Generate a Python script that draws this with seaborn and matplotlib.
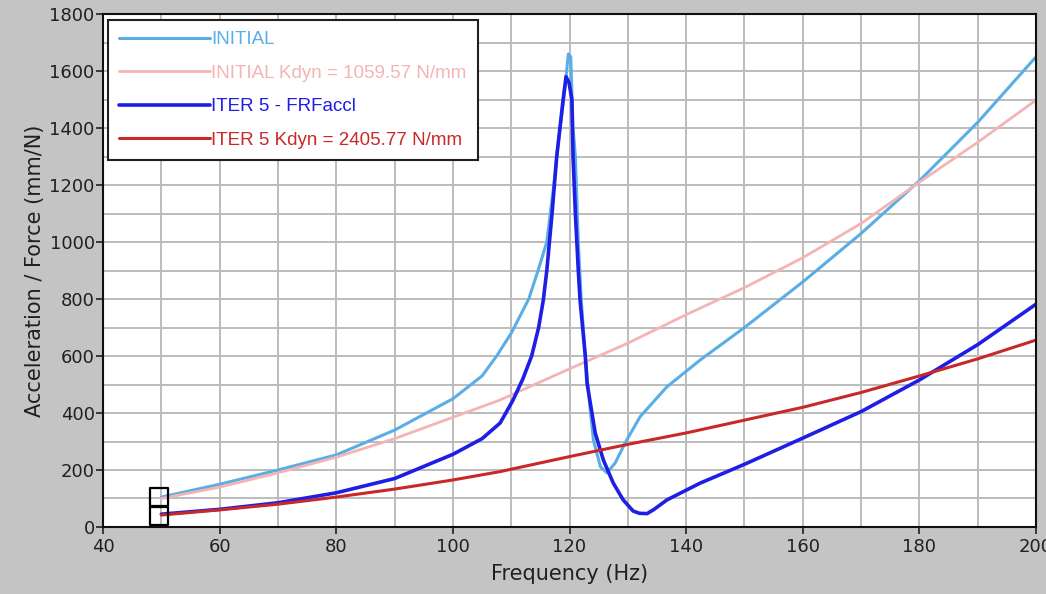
import numpy as np
import pandas as pd
import matplotlib
matplotlib.use('Agg')
import matplotlib.pyplot as plt
import seaborn as sns

# --- data ---
freq_initial = [50, 60, 70, 80, 90, 100, 105, 107.5, 110, 113, 114.6, 116.1, 116.7, 117.3, 117.8, 118.5,
                119, 119.5, 119.8, 120.2, 120.6, 121, 121.5, 122, 122.7, 123.5, 124.1, 125.3, 126.4,
                127.8, 129.8, 132.1, 136.7, 142.4, 150, 160, 170, 180, 190, 200]
acc_initial = [105, 150, 200, 253, 340, 450, 530, 600, 680, 800, 900, 1000, 1100, 1200, 1300, 1420,
               1500, 1600, 1660, 1650, 1400, 1300, 1000, 800, 600, 420, 305, 211, 190,
               224, 305, 387, 492, 586, 700, 860, 1030, 1215, 1420, 1650]

freq_kdyn_init = [50, 60, 70, 80, 90, 100, 108, 120, 130, 140, 150, 160, 170, 180, 190, 200]
acc_kdyn_init = [100, 140, 190, 245, 310, 385, 445, 555, 645, 745, 840, 945, 1065, 1210, 1350, 1498]

freq_iter5 = [50, 60, 70, 80, 90, 100, 105, 108.1, 110.3, 112, 113.5, 114.7, 115.5, 116.1, 117, 117.8,
              118.9, 119.4, 119.9, 120.4, 120.6, 121, 121.5, 121.8, 122.7, 123, 124.4, 125.8, 127.5,
              129.2, 130.9, 132, 133.3, 134.5, 136.7, 142.4, 150, 160, 170, 180, 190, 200]
acc_iter5 = [45, 62, 85, 120, 170, 255, 310, 365, 445, 520, 600, 700, 796, 900, 1100, 1300,
             1500, 1580, 1560, 1500, 1300, 1100, 900, 796, 600, 505, 330, 235, 154,
             95, 56, 48, 47, 62, 95, 154, 220, 312, 405, 516, 640, 782]

freq_kdyn_iter5 = [50, 60, 70, 80, 90, 100, 108, 120, 130, 140, 150, 160, 170, 180, 190, 200]
acc_kdyn_iter5 = [42, 60, 80, 105, 133, 165, 194, 247, 290, 330, 375, 420, 472, 530, 590, 656]

marker_freq = [49.6, 49.6]
marker_acc = [105, 38]

labels = ['INITIAL', 'INITIAL Kdyn = 1059.57 N/mm', 'ITER 5 - FRFaccl', 'ITER 5 Kdyn = 2405.77 N/mm']
colors = ['#5aaee6', '#f4b4b4', '#1e1ee6', '#c82828']
widths = [2.2, 2.0, 2.6, 2.2]

series = [(freq_initial, acc_initial), (freq_kdyn_init, acc_kdyn_init),
          (freq_iter5, acc_iter5), (freq_kdyn_iter5, acc_kdyn_iter5)]

sns.set_style('white')
plt.rcParams['font.family'] = ['DejaVu Sans']

fig = plt.figure(figsize=(10.46, 5.94), dpi=100, facecolor='#c4c4c4')
ax = fig.add_axes([0.0985, 0.1128, 0.8920, 0.8636])
ax.set_facecolor('white')

for (f, a), lab, col, lw in zip(series, labels, colors, widths):
    df = pd.DataFrame({'f': f, 'a': a})
    sns.lineplot(data=df, x='f', y='a', ax=ax, color=col, linewidth=lw, label=lab,
                 sort=False, estimator=None)

ax.scatter(marker_freq, marker_acc, marker='s', s=170, facecolors='none',
           edgecolors='black', linewidths=1.6, zorder=5)

ax.set_xlim(40, 200)
ax.set_ylim(0, 1800)
ax.set_xticks(range(40, 201, 20))
ax.set_xticks(range(40, 201, 10), minor=True)
ax.set_yticks(range(0, 1801, 200))
ax.set_yticks(range(0, 1801, 100), minor=True)
ax.grid(True, which='both', color='#bcbcbc', linewidth=1.4)
ax.tick_params(axis='both', which='major', direction='out', length=5, width=1.2,
               labelsize=13, colors='#202020', left=True, bottom=True, pad=1)
ax.tick_params(axis='x', which='major', pad=3)
ax.tick_params(axis='both', which='minor', length=0)
for s in ax.spines.values():
    s.set_color('#101010')
    s.set_linewidth(1.5)

ax.set_xlabel('Frequency (Hz)', fontsize=15, color='#202020', labelpad=6)
ax.set_ylabel('Acceleration / Force (mm/N)', fontsize=15, color='#202020', labelpad=3)

leg = ax.legend(loc='upper left', bbox_to_anchor=(0.005, 0.988),
                prop={'family': 'Liberation Sans', 'size': 13.5},
                labelcolor='linecolor', frameon=True, fancybox=False, framealpha=1,
                edgecolor='#202020', handlelength=4.85, handletextpad=0.1,
                labelspacing=0.88, borderpad=0.58, borderaxespad=0)
leg.get_frame().set_linewidth(1.5)

fig.savefig('out.png', dpi=100, facecolor=fig.get_facecolor())
